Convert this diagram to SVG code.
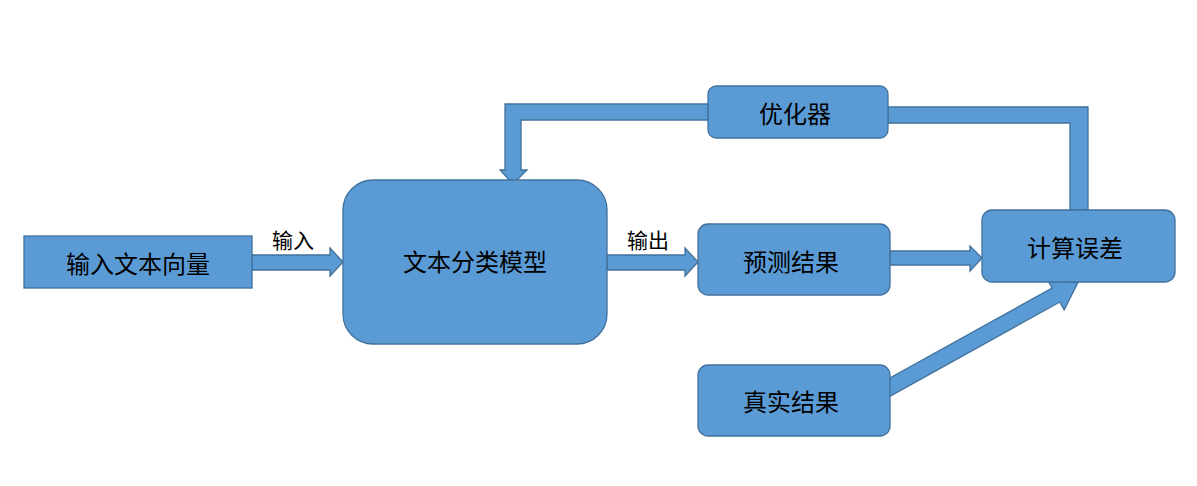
<svg xmlns="http://www.w3.org/2000/svg" width="1197" height="486" viewBox="0 0 1197 486">
<style>
.s{fill:#5B9BD5;stroke:#41719C;stroke-width:1.3}
text{font-family:"Noto Sans CJK SC","Liberation Sans",sans-serif;font-size:24px;fill:#000;text-anchor:middle;dominant-baseline:central}
.l{font-size:21px}
</style>
<rect width="1197" height="486" fill="#fff"/>
<g id="connectors">
<polygon class="s" points="252,255 330,255 330,248 343,262 330,276 330,270 252,270"/>
<text class="l" x="293" y="239">输入</text>
<polygon class="s" points="607,255 685,255 685,248 698,262 685,276 685,270 607,270"/>
<text class="l" x="648" y="239">输出</text>
<polygon class="s" points="890,251 970,251 970,246 982,258 970,271 970,265 890,265"/>
<polygon class="s" points="708,104 505,104 505,170 500,170 513,184 527,170 521,170 521,120 708,120"/>
<polygon class="s" points="888,107 1088,107 1088,210 1070,210 1070,123 888,123"/>
<polygon class="s" transform="translate(881,392) rotate(-29)" points="0,-8 200,-8 200,-17 225,0 200,17 200,8 0,8"/>
</g>
<g id="n1"><rect class="s" x="24" y="236" width="228" height="52"/><text x="138" y="262">输入文本向量</text></g>
<g id="n2"><rect class="s" x="343" y="180" width="264" height="164" rx="30"/><text x="475" y="260">文本分类模型</text></g>
<g id="n3"><rect class="s" x="698" y="224" width="192" height="71" rx="10"/><text x="791" y="260">预测结果</text></g>
<g id="n4"><rect class="s" x="982" y="210" width="193" height="72" rx="10"/><text x="1075" y="246">计算误差</text></g>
<g id="n5"><rect class="s" x="698" y="365" width="192" height="71" rx="10"/><text x="791" y="400">真实结果</text></g>
<g id="n6"><rect class="s" x="708" y="86" width="180" height="52" rx="8"/><text x="795" y="112">优化器</text></g>
</svg>
